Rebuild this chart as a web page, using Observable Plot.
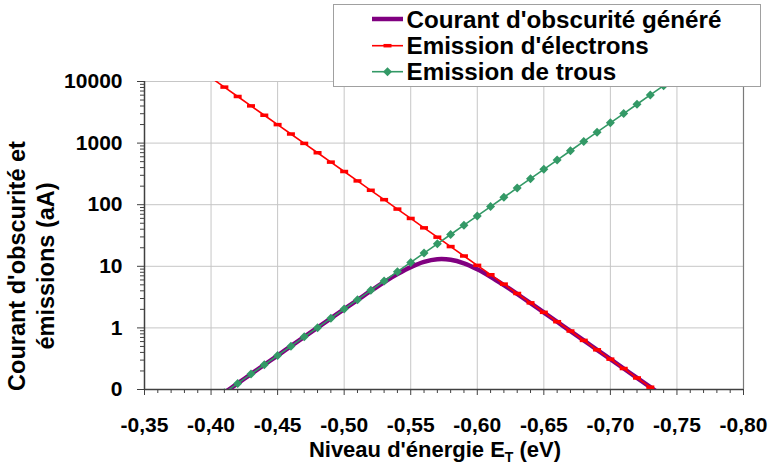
<!DOCTYPE html>
<html><head><meta charset="utf-8">
<script src="https://cdn.jsdelivr.net/npm/d3@7"></script>
<script src="https://cdn.jsdelivr.net/npm/@observablehq/plot@0.6"></script>
<style>
html,body{margin:0;padding:0;background:#fff;}
#wrap{position:relative;width:768px;height:465px;overflow:hidden;font-family:"Liberation Sans",Arial,sans-serif;}
#legend{position:absolute;left:333px;top:4px;}
</style></head><body><div id="wrap"></div>
<script>
// Energy levels E_T (eV)
const energy = [-0.40,-0.41,-0.42,-0.43,-0.44,-0.45,-0.46,-0.47,-0.48,-0.49,-0.50,-0.51,-0.52,-0.53,-0.54,-0.55,-0.56,-0.57,-0.58,-0.59,-0.60,-0.61,-0.62,-0.63,-0.64,-0.65,-0.66,-0.67,-0.68,-0.69,-0.70,-0.71,-0.72,-0.73,-0.74,-0.75];
// Emission d'électrons (aA)
const electrons = [11520,8110,5710,4020,2830,1995,1405,989,697,491,345.6,243.3,171.4,120.7,84.9,59.8,42.1,29.7,20.9,14.7,10.36,7.30,5.14,3.62,2.55,1.79,1.26,0.890,0.627,0.441,0.311,0.219,0.154,0.109,0.0764,0.0538];
// Emission de trous (aA)
const holes = [0.0626,0.0887,0.1256,0.178,0.252,0.356,0.505,0.715,1.01,1.43,2.03,2.87,4.07,5.77,8.17,11.56,16.4,23.2,32.8,46.5,65.8,93.2,132,187,265,375,531,752,1064,1507,2133,3020,4276,6055,8570,12130];
// Courant d'obscurité généré (aA)
const darkCurrent = [0.0626,0.0887,0.1256,0.178,0.252,0.356,0.5048,0.7145,1.0086,1.426,2.018,2.836,3.975,5.506,7.453,9.687,11.80,13.03,12.77,11.17,8.95,6.77,4.947,3.551,2.526,1.781,1.257,0.889,0.627,0.441,0.311,0.219,0.154,0.109,0.0764,0.0538];

const xTicks = [-0.35,-0.40,-0.45,-0.50,-0.55,-0.60,-0.65,-0.70,-0.75,-0.80];
const xTickLabels = ["-0,35","-0,40","-0,45","-0,50","-0,55","-0,60","-0,65","-0,70","-0,75","-0,80"];
const yTicks = [0.1,1,10,100,1000,10000];
const yTickLabels = ["0","1","10","100","1000","10000"];
const seriesNames = ["Courant d'obscurité généré","Emission d'électrons","Emission de trous"];
const seriesColors = ["#800080","#ff0000","#339966"];
const xTitle = ["Niveau d'énergie E","T"," (eV)"];
const yTitle = ["Courant d'obscurité et","émissions (aA)"];

const rows = energy.map((e,i)=>({e, dark: darkCurrent[i], el: electrons[i], h: holes[i]}));
const xMinor = xTicks.slice(0,-1).flatMap(t => [1,2,3,4].map(k => +(t - k*0.01).toFixed(2)));
const yMinor = yTicks.slice(0,-1).flatMap(d => [2,3,4,5,6,7,8,9].map(m => m*d));

const dashSymbol = {draw(ctx){ctx.moveTo(-4,-1.75);ctx.lineTo(4,-1.75);ctx.lineTo(4,1.75);ctx.lineTo(-4,1.75);ctx.closePath();}};
const diamondSymbol = {draw(ctx){ctx.moveTo(0,-4.5);ctx.lineTo(4.5,0);ctx.lineTo(0,4.5);ctx.lineTo(-4.5,0);ctx.closePath();}};

const font = "Liberation Sans, Arial, sans-serif";
const chart = Plot.plot({
  width: 768, height: 465,
  marginLeft: 144, marginRight: 25, marginTop: 81, marginBottom: 76,
  style: {fontFamily: font, fontSize: "21px", fontWeight: "bold", color: "#000", background: "transparent", overflow: "visible"},
  x: {domain: [-0.35, -0.80]},
  y: {type: "log", domain: [0.1, 10000]},
  marks: [
    Plot.gridX({ticks: xTicks, stroke: "#c6c6c6", strokeOpacity: 1, strokeWidth: 1}),
    Plot.gridY({ticks: yTicks, stroke: "#c6c6c6", strokeOpacity: 1, strokeWidth: 1}),
    Plot.ruleX([-0.80], {stroke: "#7a7a7a", strokeWidth: 1.2}),
    Plot.axisX({ticks: xMinor, tickSize: 4, tickFormat: () => "", stroke: "#404040", label: null}),
    Plot.axisX({ticks: xTicks, tickSize: 6, tickPadding: 22, tickFormat: d => xTickLabels[xTicks.indexOf(d)], stroke: "#404040", label: null, fontSize: 21, fontWeight: "bold"}),
    Plot.axisY({ticks: yMinor, tickSize: 4, tickFormat: () => "", stroke: "#404040", label: null}),
    Plot.axisY({ticks: yTicks, tickSize: 7, tickPadding: 15, tickFormat: d => yTickLabels[yTicks.indexOf(d)], stroke: "#404040", label: null, fontSize: 21, fontWeight: "bold"}),
    Plot.ruleX([-0.35], {stroke: "#404040", strokeWidth: 1.5}),
    Plot.ruleY([0.1], {stroke: "#404040", strokeWidth: 1.5}),
    Plot.line(rows, {x: "e", y: "dark", stroke: seriesColors[0], strokeWidth: 4.5, curve: "catmull-rom", clip: true}),
    Plot.line(rows, {x: "e", y: "el", stroke: seriesColors[1], strokeWidth: 1.6, clip: true}),
    Plot.dot(rows, {x: "e", y: "el", symbol: dashSymbol, fill: seriesColors[1], stroke: "none", clip: true}),
    Plot.line(rows, {x: "e", y: "h", stroke: seriesColors[2], strokeWidth: 1.6, clip: true}),
    Plot.dot(rows, {x: "e", y: "h", symbol: diamondSymbol, fill: seriesColors[2], stroke: "none", clip: true})
  ]
});
const wrap = document.getElementById("wrap");
wrap.appendChild(chart);

const svg = d3.select(chart);
// x title
const xt = svg.append("text").attr("x", 435).attr("y", 457).attr("text-anchor", "middle")
  .attr("font-size", 22).attr("font-weight", "bold").attr("fill", "#000").attr("font-family", font);
xt.append("tspan").text(xTitle[0]);
xt.append("tspan").attr("font-size", 14).attr("dy", 5).text(xTitle[1]);
xt.append("tspan").attr("dy", -5).text(xTitle[2]);
// y title
[24.5, 54].forEach((bx, i) => {
  svg.append("text").attr("transform", `translate(${bx},266) rotate(-90)`).attr("text-anchor", "middle")
    .attr("font-size", 23.5).attr("font-weight", "bold").attr("fill", "#000").attr("font-family", font)
    .text(yTitle[i]);
});

// Legend
const lg = d3.select(wrap).append("svg").attr("id", "legend").attr("width", 430).attr("height", 84);
lg.append("rect").attr("x", 0.5).attr("y", 0.5).attr("width", 427).attr("height", 82)
  .attr("fill", "#fff").attr("stroke", "#a0a0a0");
const rowY = [15, 41.7, 67.7];
seriesNames.forEach((name, i) => {
  const g = lg.append("g").attr("transform", `translate(0,${rowY[i]})`);
  g.append("line").attr("x1", 39).attr("x2", 70).attr("y1", 0).attr("y2", 0)
    .attr("stroke", seriesColors[i]).attr("stroke-width", i === 0 ? 4.5 : 1.6);
  if (i === 1) g.append("rect").attr("x", 50.5).attr("y", -1.75).attr("width", 8).attr("height", 3.5).attr("fill", seriesColors[i]);
  if (i === 2) g.append("path").attr("d", "M54.5,-4.5L59,0L54.5,4.5L50,0Z").attr("fill", seriesColors[i]);
  g.append("text").attr("x", 73.5).attr("y", 8.5).attr("font-size", 24.2).attr("font-weight", "bold")
    .attr("font-family", font).attr("fill", "#000").text(name);
});
</script></body></html>
